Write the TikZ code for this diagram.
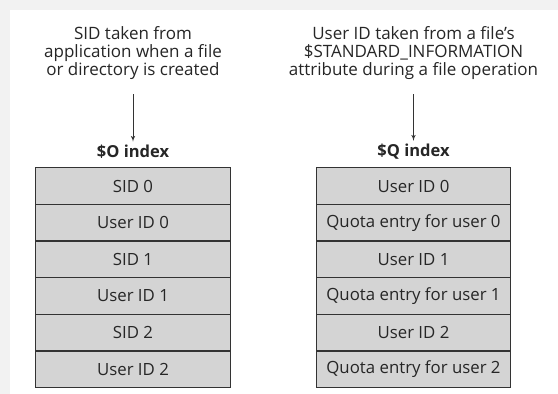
\documentclass[tikz,border=0pt]{standalone}
\usepackage{fontspec}
\setmainfont{Open Sans}
\usepackage{tikz}
\usetikzlibrary{arrows,positioning}
\definecolor{cellgray}{HTML}{D4D4D4}
\definecolor{linegray}{HTML}{333333}
\definecolor{margingray}{HTML}{F2F2F2}

\begin{document}
\begin{tikzpicture}[
  x=1pt, y=1pt,
  cell/.style={draw=linegray, line width=1.1pt, rectangle, fill=cellgray,
               minimum width=194.6pt, minimum height=36.67pt, inner sep=0pt,
               text centered, text=black!85, font=\fontsize{16.8}{18}\selectfont},
  source/.style={align=center, text=black!85, inner sep=0pt,
                 font=\fontsize{17}{17.8}\selectfont},
  idxhead/.style={font=\fontsize{16.5}{18}\selectfont\bfseries, text=black!85},
  feed/.style={-latex', line width=1pt, draw=linegray}
]
% Page and margin
\useasboundingbox (0,0) rectangle (558,-394);
\fill[margingray] (0,0) rectangle (558,-394);
\fill[white] (10,-10) rectangle (558,-394);

% Where the entries come from
\node[source] (oSrc) at (133,-53)   {SID taken from\\application when a file\\or directory is created};
\node[source] (qSrc) at (413.5,-53) {User ID taken from a file's\\\$STANDARD\_INFORMATION\\attribute during a file operation};

% Index headers
\node[idxhead] (oHead) at (133,-152)   {\$O index};
\node[idxhead] (qHead) at (413.5,-152) {\$Q index};

\draw[feed] (oSrc.south |- 0,-94) -- (oHead.north);
\draw[feed] (qSrc.south |- 0,-94) -- (qHead.north);

% $O index entries
\node[cell] (o0) at (133,-186.0) {SID 0};
\node[cell] (o1) at (133,-222.7) {User ID 0};
\node[cell] (o2) at (133,-259.3) {SID 1};
\node[cell] (o3) at (133,-296.0) {User ID 1};
\node[cell] (o4) at (133,-332.7) {SID 2};
\node[cell] (o5) at (133,-369.3) {User ID 2};

% $Q index entries
\node[cell] (q0) at (413.5,-186.0) {User ID 0};
\node[cell] (q1) at (413.5,-222.7) {Quota entry for user 0};
\node[cell] (q2) at (413.5,-259.3) {User ID 1};
\node[cell] (q3) at (413.5,-296.0) {Quota entry for user 1};
\node[cell] (q4) at (413.5,-332.7) {User ID 2};
\node[cell] (q5) at (413.5,-369.3) {Quota entry for user 2};
\end{tikzpicture}
\end{document}
